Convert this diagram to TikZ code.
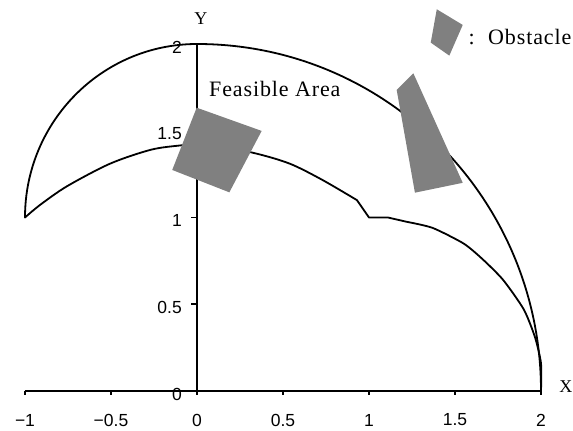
\documentclass[tikz,border=0pt]{standalone}
\usepackage{fontspec}
\setmainfont{Liberation Serif}
\newfontfamily\ticksf{Liberation Sans}
\newfontfamily\spacedserif[LetterSpace=4]{Liberation Serif}
\definecolor{obgray}{RGB}{128,128,128}
\begin{document}
\begin{tikzpicture}[x=172pt,y=173.5pt,
  curve/.style={line width=1.8pt, line join=round, line cap=round},
  axisline/.style={line width=1.8pt},
  obst/.style={fill=obgray, draw=none},
  ticklbl/.style={font=\ticksf\fontsize{17.5}{20}\selectfont, inner sep=0pt},
  axlbl/.style={font=\fontsize{18}{20}\selectfont, inner sep=0pt},
  biglbl/.style={font=\spacedserif\fontsize{22}{24}\selectfont, inner sep=0pt}]
\useasboundingbox (-197pt,-40pt) rectangle (376pt,391pt);
% axes
\coordinate (xl) at (-1,0);
\coordinate (xr) at (2,0);
\coordinate (yb) at (0,0);
\coordinate (ytop) at (0,2);
\draw[axisline] (xl) -- (xr);
\draw[axisline] (yb) -- (ytop);
\foreach \x/\t/\n in {-1/−1/a,-0.5/−0.5/b,0/0/c,0.5/0.5/d,1/1/e,1.5/1.5/f,2/2/g}{
  \draw[axisline] (\x,0) -- ++(0,-4pt);
  \node[ticklbl] (xt\n) at ([yshift=-29pt]\x,0) {\t};
}
\foreach \y/\n in {0/a,0.5/b,1/c,1.5/d,2/e}{
  \draw[axisline] (0,\y) -- ++(-6pt,0);
  \node[ticklbl,anchor=east] (yt\n) at ([xshift=-15pt,yshift=-3pt]0,\y) {\y};
}
% outer boundary
\draw[curve] (-1,1) arc[start angle=180, end angle=90, x radius=1, y radius=1]
  arc[start angle=90, end angle=0, x radius=2, y radius=2];
% inner boundary
\draw[curve] plot[smooth, tension=0.5] coordinates {(-1,1) (-0.913,1.072) (-0.756,1.18) (-0.506,1.31) (-0.27,1.39) (-0.1,1.415) (0.05,1.425) (0.33,1.372) (0.54,1.31) (0.73,1.216) (0.93,1.10)}
  -- (1.0,1.0) -- (1.11,1.0)
  -- plot[smooth, tension=0.4] coordinates {(1.22,0.975) (1.37,0.94) (1.55,0.85) (1.66,0.76) (1.78,0.64) (1.9,0.47) (1.965,0.31) (2,0.16) (2,0)};
% obstacles
\fill[obst] (-0.002,1.633) -- (0.376,1.499) -- (0.188,1.145) -- (-0.144,1.274) -- cycle;
\fill[obst] (1.258,1.831) -- (1.161,1.735) -- (1.267,1.143) -- (1.545,1.200) -- cycle;
\fill[obst] (1.394,2.200) -- (1.545,2.110) -- (1.467,1.933) -- (1.359,2.008) -- cycle;
% labels
\node[biglbl, anchor=base west] (feas) at (0.07,1.70) {Feasible Area};
\node[biglbl, anchor=base] (colon) at (1.597,1.997) {:};
\node[biglbl, anchor=base west] (obsl) at (1.692,1.997) {Obstacle};
\node[axlbl] (ylab) at (0.023,2.144) {Y};
\node[axlbl, anchor=west] (xlab) at (2.105,0.023) {X};
\end{tikzpicture}
\end{document}
